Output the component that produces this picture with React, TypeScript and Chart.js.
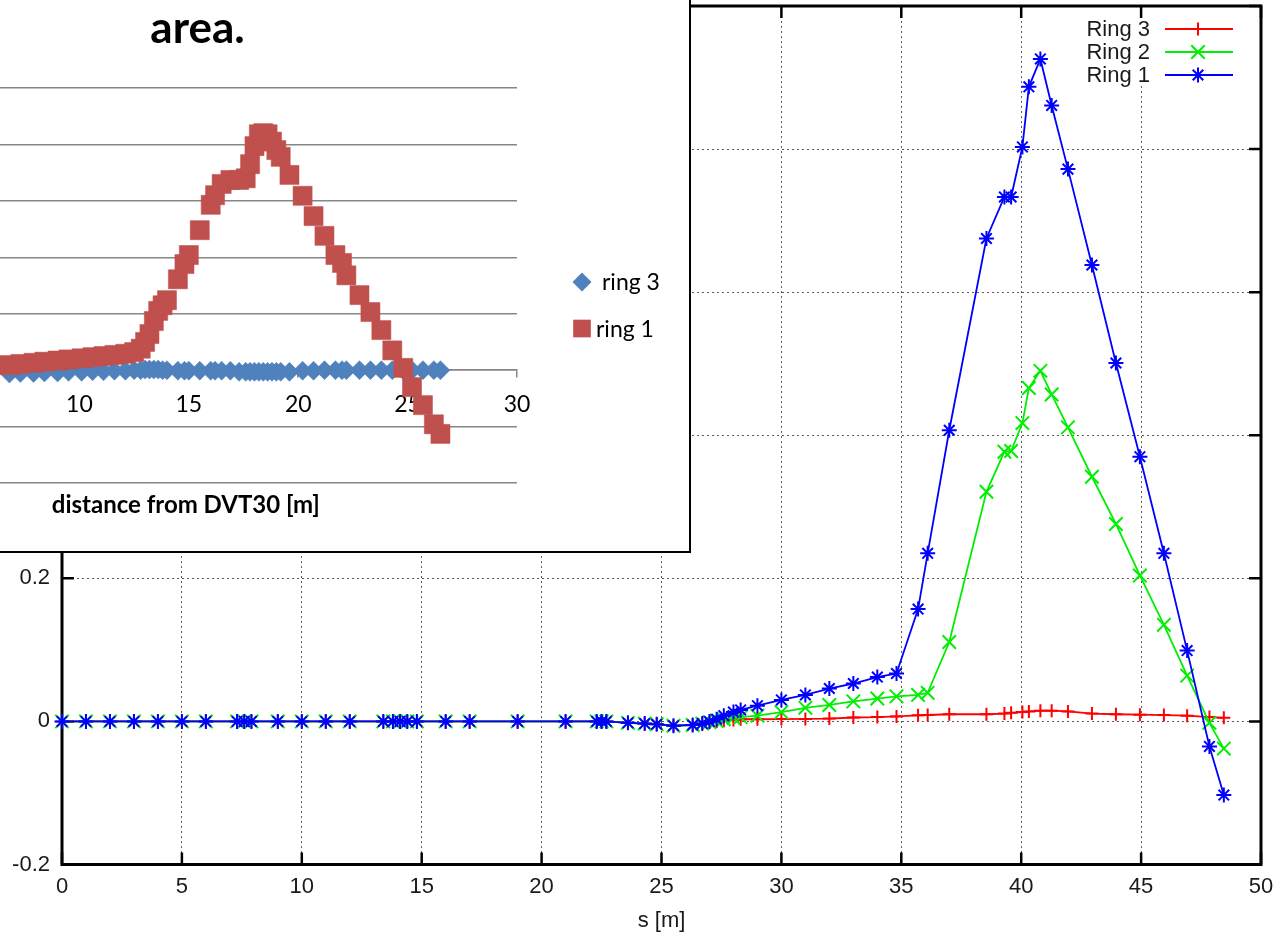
import { useEffect, useRef } from 'react';
import { Chart, registerables } from 'chart.js';
import { drawPoint } from 'chart.js/helpers';

Chart.register(...registerables);

// ---- orbit deviation along the line, s [m] ----
const S_POS = [
  0, 1, 2, 3, 4, 5, 6, 7.3, 7.6, 7.9, 9, 10, 11, 12, 13.4, 13.8, 14.1, 14.4, 14.8, 16, 17, 19, 21,
  22.3, 22.5, 22.7, 23.6, 24.3, 24.8, 25.5, 26.3, 26.7, 27.0, 27.3, 27.6, 28.0, 28.3,
  29, 30, 31, 32, 33, 34, 34.8, 35.7, 36.1, 37.0,
  38.55, 39.3, 39.58, 40.05, 40.32, 40.8, 41.27, 41.95, 42.95,
  43.95, 44.95, 45.95, 46.92, 47.85, 48.45,
];

const RING1 = [
  0, 0, 0, 0, 0, 0, 0, 0, 0, 0, 0, 0, 0, 0, 0, 0, 0, 0, 0, 0, 0, 0, 0,
  0, 0, 0, -0.002, -0.003, -0.004, -0.006, -0.005, -0.003, 0.0, 0.003, 0.008, 0.013, 0.016,
  0.022, 0.030, 0.037, 0.046, 0.053, 0.062, 0.067, 0.157, 0.235, 0.407,
  0.675, 0.733, 0.733, 0.803, 0.887, 0.926, 0.861, 0.772, 0.638,
  0.501, 0.370, 0.235, 0.099, -0.035, -0.103,
];

const RING2 = [
  0, 0, 0, 0, 0, 0, 0, 0, 0, 0, 0, 0, 0, 0, 0, 0, 0, 0, 0, 0, 0, 0, 0,
  0, 0, 0, -0.002, -0.003, -0.004, -0.006, -0.005, -0.003, -0.001, 0.001, 0.003, 0.005, 0.006,
  0.008, 0.013, 0.019, 0.023, 0.028, 0.032, 0.035, 0.037, 0.040, 0.111,
  0.321, 0.377, 0.378, 0.417, 0.466, 0.490, 0.457, 0.411, 0.342,
  0.276, 0.204, 0.135, 0.064, -0.002, -0.038,
];

const RING3 = [
  0, 0, 0, 0, 0, 0, 0, 0, 0, 0, 0, 0, 0, 0, 0, 0, 0, 0, 0, 0, 0, 0, 0,
  0, 0, 0, -0.002, -0.003, -0.004, -0.006, -0.005, -0.003, -0.001, 0.0, 0.001, 0.002, 0.003,
  0.003, 0.0033, 0.0035, 0.004, 0.0055, 0.006, 0.007, 0.0085, 0.009, 0.010,
  0.010, 0.011, 0.012, 0.013, 0.014, 0.015, 0.015, 0.014, 0.011,
  0.010, 0.0094, 0.0088, 0.008, 0.006, 0.005,
];

const S_TICKS = { min: 0, max: 50, step: 5 };
const DEV_TICKS = { min: -0.2, max: 1.0, step: 0.2 };

// ---- inset: distance from DVT30 [m] ----
const DVT_DIST = [
  6.8, 7.3, 7.9, 8.4, 9.0, 9.5, 10.1, 10.6, 11.1, 11.6, 12.1, 12.5,
  12.8, 13.0, 13.2, 13.4, 13.6, 13.8, 14.0,
  14.5, 14.8, 15.0, 15.5, 16.0, 16.2, 16.5, 16.9,
  17.3, 17.6, 17.8, 18.0, 18.2, 18.4, 18.6, 18.8, 19.0, 19.2, 19.6,
  20.2, 20.7, 21.2, 21.7, 22.0, 22.2, 22.8, 23.3, 23.8, 24.3, 24.8, 25.2, 25.7, 26.2, 26.5,
];

const DVT_RING1 = [
  0.009, 0.011, 0.013, 0.015, 0.017, 0.019, 0.021, 0.023, 0.025, 0.027, 0.029, 0.032,
  0.038, 0.05, 0.064, 0.087, 0.105, 0.115, 0.124,
  0.161, 0.188, 0.204, 0.248, 0.293, 0.310, 0.330, 0.337,
  0.337, 0.340, 0.365, 0.397, 0.418, 0.420, 0.418, 0.405, 0.390, 0.378, 0.346,
  0.309, 0.273, 0.238, 0.204, 0.190, 0.168, 0.133, 0.103, 0.071, 0.035, 0.004, -0.030, -0.062, -0.096, -0.113,
];

const DVT_RING3 = [
  -0.006, -0.005, -0.005, -0.004, -0.004, -0.003, -0.003, -0.002, -0.002, -0.001, -0.001, 0,
  0, 0.001, 0.001, 0.001, 0.001, 0, 0,
  -0.001, -0.001, -0.001, -0.001, -0.001, -0.001, -0.001, -0.001,
  -0.003, -0.003, -0.003, -0.003, -0.003, -0.003, -0.003, -0.003, -0.003, -0.003, -0.003,
  -0.001, -0.001, 0, 0, 0, 0, 0, 0, 0, 0, 0, 0, 0, 0, 0,
];

const DVT_X_TICKS = { min: 0, max: 30, step: 5 };
const DVT_Y_TICKS = { min: -0.2, max: 0.5, step: 0.1 };

const FONT_PLOT = '"Liberation Sans", Arial, sans-serif';
const FONT_SHEET = 'Lato, "Open Sans", sans-serif';

const INSET_LEFT = -160; // page x of the inset canvas

type Marker = { style: any; radius: number; color: string };

const ringStyles: Record<string, Marker> = {
  'Ring 1': { style: 'star', radius: 7.5, color: '#0000ff' },
  'Ring 2': { style: 'crossRot', radius: 9.5, color: '#00ee00' },
  'Ring 3': { style: 'cross', radius: 6.5, color: '#ff0000' },
};

const toPoints = (xs: number[], ys: number[]) => xs.map((x, i) => ({ x, y: ys[i] }));

const fmtTick = (v: number) => {
  const r = Math.round(v * 10) / 10;
  return r === 0 ? '0' : String(r);
};

// Border, inward mirrored ticks and key, drawn the way gnuplot does it.
const gnuplotFrame = {
  id: 'gnuplotFrame',
  beforeDatasetsDraw(chart: any) {
    const { ctx, chartArea: a, scales } = chart;
    ctx.save();
    // opaque key area
    ctx.fillStyle = '#fff';
    ctx.fillRect(a.right - 180, a.top + 12, 164, 68);
    // frame
    ctx.strokeStyle = '#000';
    ctx.lineWidth = 3;
    ctx.strokeRect(a.left, a.top, a.right - a.left, a.bottom - a.top);
    // ticks
    ctx.lineWidth = 2.5;
    const len = 12;
    ctx.beginPath();
    for (const t of scales.x.ticks) {
      const px = scales.x.getPixelForValue(t.value);
      ctx.moveTo(px, a.bottom);
      ctx.lineTo(px, a.bottom - len);
      ctx.moveTo(px, a.top);
      ctx.lineTo(px, a.top + len);
    }
    for (const t of scales.y.ticks) {
      const py = scales.y.getPixelForValue(t.value);
      ctx.moveTo(a.left, py);
      ctx.lineTo(a.left + len, py);
      ctx.moveTo(a.right, py);
      ctx.lineTo(a.right - len, py);
    }
    ctx.stroke();
    ctx.restore();
  },
  afterDraw(chart: any) {
    const { ctx, chartArea: a } = chart;
    const order = ['Ring 3', 'Ring 2', 'Ring 1'];
    ctx.save();
    ctx.font = `22px ${FONT_PLOT}`;
    ctx.textAlign = 'right';
    ctx.textBaseline = 'middle';
    order.forEach((name, i) => {
      const m = ringStyles[name];
      const y = a.top + 23 + i * 23;
      ctx.fillStyle = '#1a1a1a';
      ctx.fillText(name, a.right - 111, y + 1);
      ctx.strokeStyle = m.color;
      ctx.lineWidth = 1.8;
      ctx.beginPath();
      ctx.moveTo(a.right - 96, y);
      ctx.lineTo(a.right - 28, y);
      ctx.stroke();
      ctx.lineWidth = 2;
      drawPoint(ctx, { pointStyle: m.style, radius: m.radius, rotation: 0, borderWidth: 2 }, a.right - 63, y);
    });
    ctx.restore();
  },
};

// Title fragment, axis title and legend of the spreadsheet inset.
const sheetDecor = {
  id: 'sheetDecor',
  afterDraw(chart: any) {
    const { ctx, chartArea: a } = chart;
    ctx.save();
    ctx.fillStyle = '#000';
    ctx.textBaseline = 'alphabetic';
    ctx.textAlign = 'center';
    ctx.font = `bold 44px ${FONT_SHEET}`;
    ctx.fillText('area.', 197.5 - INSET_LEFT, 43);

    ctx.textBaseline = 'middle';
    ctx.font = `bold 24px ${FONT_SHEET}`;
    ctx.fillText('distance from DVT30 [m]', (a.left + a.right) / 2 - 3, a.bottom + 22);

    ctx.textAlign = 'left';
    ctx.font = `23px ${FONT_SHEET}`;
    const mx = a.right + 65;
    ctx.fillStyle = '#4F81BD';
    drawPoint(ctx, { pointStyle: 'rectRot', radius: 9.5, rotation: 0, borderWidth: 0 }, mx, 282);
    ctx.fillStyle = '#C0504D';
    drawPoint(ctx, { pointStyle: 'rect', radius: 12.5, rotation: 0, borderWidth: 0 }, mx, 328.5);
    ctx.fillStyle = '#000';
    ctx.fillText('ring 3', mx + 20, 283);
    ctx.fillText('ring 1', mx + 14, 329.5);
    ctx.restore();
  },
};

const noScalePadding = (s: any) => {
  s.paddingTop = 0;
  s.paddingBottom = 0;
  s.paddingLeft = 0;
  s.paddingRight = 0;
};

export default function App() {
  const mainRef = useRef<HTMLCanvasElement>(null);
  const insetRef = useRef<HTMLCanvasElement>(null);

  useEffect(() => {
    const ringData: Record<string, number[]> = { 'Ring 1': RING1, 'Ring 2': RING2, 'Ring 3': RING3 };
    const ringSets = ['Ring 1', 'Ring 2', 'Ring 3'].map((name, i) => {
      const m = ringStyles[name];
      return {
        label: name,
        data: toPoints(S_POS, ringData[name]),
        showLine: true,
        borderColor: m.color,
        backgroundColor: m.color,
        borderWidth: 1.8,
        pointStyle: m.style,
        pointRadius: m.radius,
        pointBorderWidth: 2,
        order: i,
        clip: false as any,
      };
    });

    const tickFont = { family: FONT_PLOT, size: 22 };
    const main = new Chart(mainRef.current!, {
      type: 'scatter',
      data: { datasets: ringSets as any },
      options: {
        responsive: false,
        animation: false,
        devicePixelRatio: 1,
        events: [],
        layout: { padding: { top: 6, right: 19, bottom: 0, left: 0 }, autoPadding: false },
        plugins: { legend: { display: false }, tooltip: { enabled: false } },
        scales: {
          x: {
            type: 'linear',
            min: S_TICKS.min,
            max: S_TICKS.max,
            ticks: { stepSize: S_TICKS.step, padding: 9, font: tickFont, color: '#1a1a1a', maxRotation: 0, autoSkip: false, callback: (v: any) => fmtTick(Number(v)) },
            grid: { color: '#5a5a5a', lineWidth: 1, drawTicks: false },
            border: { display: false, dash: [2, 3] },
            title: { display: true, text: 's [m]', font: tickFont, color: '#1a1a1a', padding: { top: 0, bottom: 1 } },
            afterFit: (s: any) => { s.height = 70.5; noScalePadding(s); },
          },
          y: {
            type: 'linear',
            min: DEV_TICKS.min,
            max: DEV_TICKS.max,
            ticks: { stepSize: DEV_TICKS.step, padding: 12, font: tickFont, color: '#1a1a1a', callback: (v: any) => fmtTick(Number(v)) },
            grid: { color: '#5a5a5a', lineWidth: 1, drawTicks: false },
            border: { display: false, dash: [2, 3] },
            afterFit: (s: any) => { s.width = 62; noScalePadding(s); },
          },
        },
      },
      plugins: [gnuplotFrame],
    });

    const inset = new Chart(insetRef.current!, {
      type: 'scatter',
      data: {
        datasets: [
          {
            label: 'ring 3',
            data: toPoints(DVT_DIST, DVT_RING3),
            pointStyle: 'rectRot',
            pointRadius: 9.5,
            backgroundColor: '#4F81BD',
            borderColor: '#4F81BD',
            pointBorderWidth: 0.5,
            order: 1,
            clip: false as any,
          },
          {
            label: 'ring 1',
            data: toPoints(DVT_DIST, DVT_RING1),
            pointStyle: 'rect',
            pointRadius: 13.5,
            backgroundColor: '#C0504D',
            borderColor: '#C0504D',
            pointBorderWidth: 0.5,
            order: 0,
            clip: false as any,
          },
        ],
      },
      options: {
        responsive: false,
        animation: false,
        devicePixelRatio: 1,
        events: [],
        layout: { padding: { top: 88, right: 183, bottom: 69, left: 9.5 }, autoPadding: false },
        plugins: { legend: { display: false }, tooltip: { enabled: false } },
        scales: {
          x: {
            type: 'linear',
            position: { y: 0 } as any,
            min: DVT_X_TICKS.min,
            max: DVT_X_TICKS.max,
            ticks: { stepSize: DVT_X_TICKS.step, padding: 14, font: { family: FONT_SHEET, size: 23 }, color: '#000', maxRotation: 0 },
            grid: { drawOnChartArea: false, drawTicks: true, tickLength: 7, color: '#868686', lineWidth: 1.5 },
            border: { display: true, color: '#868686', width: 1.5 },
          },
          y: {
            type: 'linear',
            min: DVT_Y_TICKS.min,
            max: DVT_Y_TICKS.max,
            ticks: { stepSize: DVT_Y_TICKS.step, display: false },
            grid: { color: '#868686', lineWidth: 1.5, drawTicks: false },
            border: { display: false },
            afterFit: (s: any) => { s.width = 0; noScalePadding(s); },
          },
        },
      },
      plugins: [sheetDecor],
    });

    return () => {
      main.destroy();
      inset.destroy();
    };
  }, []);

  return (
    <div style={{ position: 'fixed', left: 0, top: 0, width: 1280, height: 935, background: '#fff', overflow: 'hidden' }}>
      <canvas ref={mainRef} width={1280} height={935} style={{ position: 'absolute', left: 0, top: 0, width: 1280, height: 935 }} />
      <div
        style={{
          position: 'absolute',
          left: -10,
          top: -10,
          width: 701,
          height: 563,
          boxSizing: 'border-box',
          border: '2px solid #000',
          background: '#fff',
          overflow: 'hidden',
        }}
      >
        <canvas
          ref={insetRef}
          width={860}
          height={552}
          style={{ position: 'absolute', left: INSET_LEFT + 8, top: 8, width: 860, height: 552 }}
        />
      </div>
    </div>
  );
}
